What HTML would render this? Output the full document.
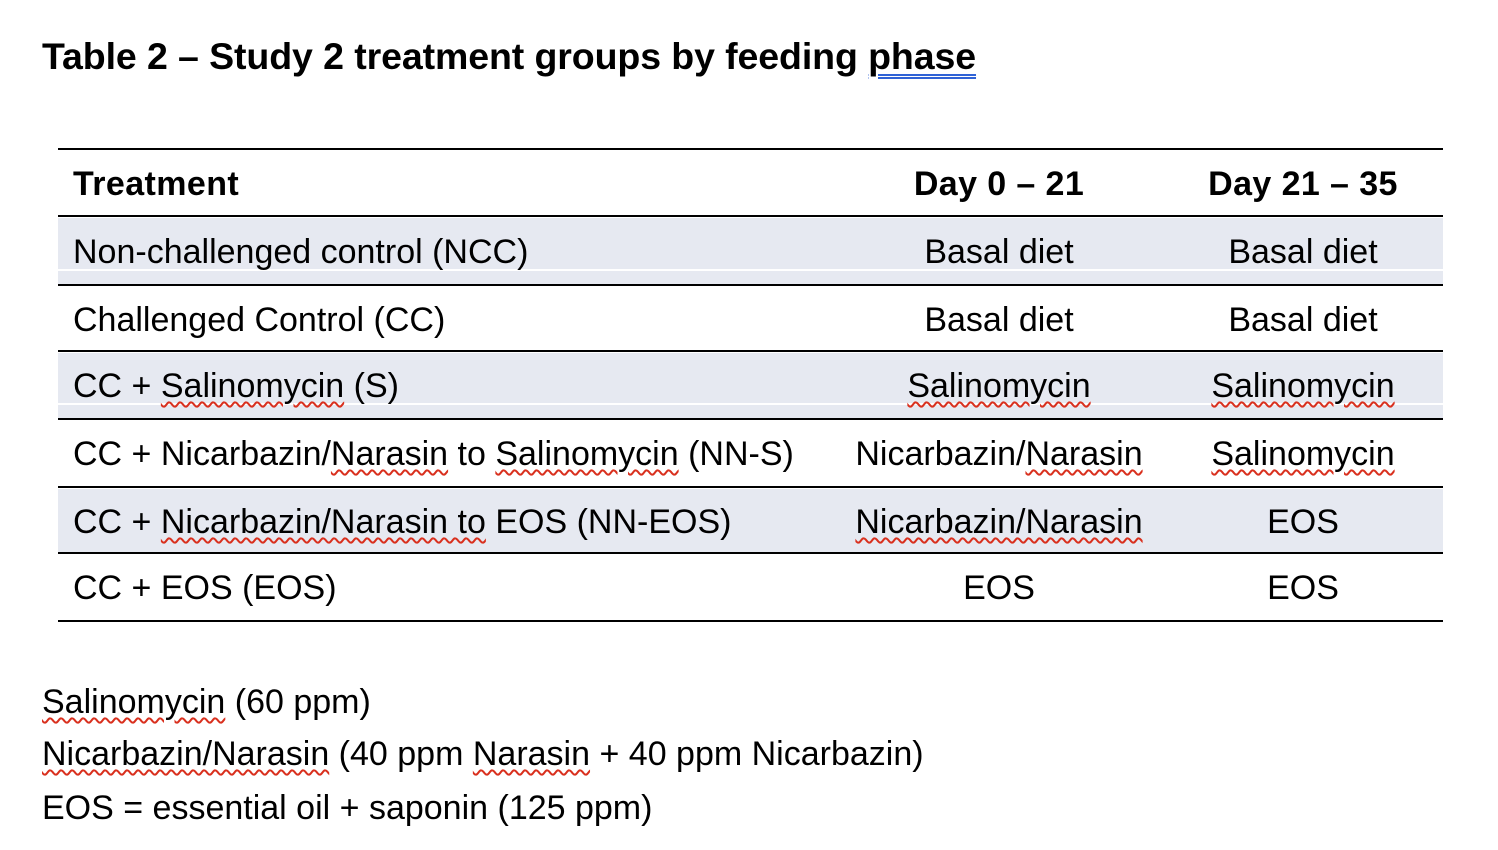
<!DOCTYPE html>
<html><head><meta charset="utf-8"><style>
body{margin:0;width:1498px;height:850px;background:#fff;position:relative;overflow:hidden;font-family:"Liberation Sans",Arial,sans-serif;color:#000}
.t{position:absolute;white-space:nowrap;font-size:34px;line-height:38px}
.f{font-size:34px}
.c{transform:translateX(-50%)}
.b{font-weight:bold;letter-spacing:0.4px}
.rule{position:absolute;left:58px;width:1385px;height:2px;background:#000}
.sh{position:absolute;left:58px;width:1385px;background:#e6e9f1}
.w{text-decoration:underline wavy #d9301e;text-decoration-thickness:1.5px;text-underline-offset:4px}
.title{position:absolute;left:42px;top:35px;font-size:37.5px;font-weight:bold;letter-spacing:-0.1px;white-space:nowrap}
.ph{text-decoration:underline double #2f62d6;text-underline-offset:5px;text-decoration-thickness:2px}
</style></head><body>
<div class="title">Table 2 – Study 2 treatment groups by feeding <span class="ph">phase</span></div>

<div class="sh" style="top:218px;height:66px"></div>
<div style="position:absolute;left:58px;top:269px;width:1385px;height:2px;background:#fff"></div>
<div class="sh" style="top:353px;height:65px"></div>
<div style="position:absolute;left:58px;top:403px;width:1385px;height:2px;background:#fff"></div>
<div class="sh" style="top:489px;height:63px"></div>

<div class="rule" style="top:148px"></div>
<div class="rule" style="top:215px"></div>
<div class="rule" style="top:284px"></div>
<div class="rule" style="top:350px"></div>
<div class="rule" style="top:418px"></div>
<div class="rule" style="top:486px"></div>
<div class="rule" style="top:552px"></div>
<div class="rule" style="top:620px"></div>

<div class="t b" style="left:73px;top:165px">Treatment</div>
<div class="t b c" style="left:999px;top:165px">Day 0 – 21</div>
<div class="t b c" style="left:1303px;top:165px">Day 21 – 35</div>

<div class="t" style="left:73px;top:233px">Non-challenged control (NCC)</div>
<div class="t c" style="left:999px;top:233px">Basal diet</div>
<div class="t c" style="left:1303px;top:233px">Basal diet</div>

<div class="t" style="left:73px;top:301px">Challenged Control (CC)</div>
<div class="t c" style="left:999px;top:301px">Basal diet</div>
<div class="t c" style="left:1303px;top:301px">Basal diet</div>

<div class="t" style="left:73px;top:367px">CC + <span class="w">Salinomycin</span> (S)</div>
<div class="t c" style="left:999px;top:367px"><span class="w">Salinomycin</span></div>
<div class="t c" style="left:1303px;top:367px"><span class="w">Salinomycin</span></div>

<div class="t" style="left:73px;top:435px">CC + Nicarbazin/<span class="w">Narasin</span> to <span class="w">Salinomycin</span> (NN-S)</div>
<div class="t c" style="left:999px;top:435px">Nicarbazin/<span class="w">Narasin</span></div>
<div class="t c" style="left:1303px;top:435px"><span class="w">Salinomycin</span></div>

<div class="t" style="left:73px;top:503px">CC + <span class="w">Nicarbazin/Narasin to</span> EOS (NN-EOS)</div>
<div class="t c" style="left:999px;top:503px"><span class="w">Nicarbazin/Narasin</span></div>
<div class="t c" style="left:1303px;top:503px">EOS</div>

<div class="t" style="left:73px;top:569px">CC + EOS (EOS)</div>
<div class="t c" style="left:999px;top:569px">EOS</div>
<div class="t c" style="left:1303px;top:569px">EOS</div>

<div class="t f" style="left:42px;top:683px"><span class="w">Salinomycin</span> (60 ppm)</div>
<div class="t f" style="left:42px;top:735px"><span class="w">Nicarbazin/Narasin</span> (40 ppm <span class="w">Narasin</span> + 40 ppm Nicarbazin)</div>
<div class="t f" style="left:42px;top:789px">EOS = essential oil + saponin (125 ppm)</div>
</body></html>
